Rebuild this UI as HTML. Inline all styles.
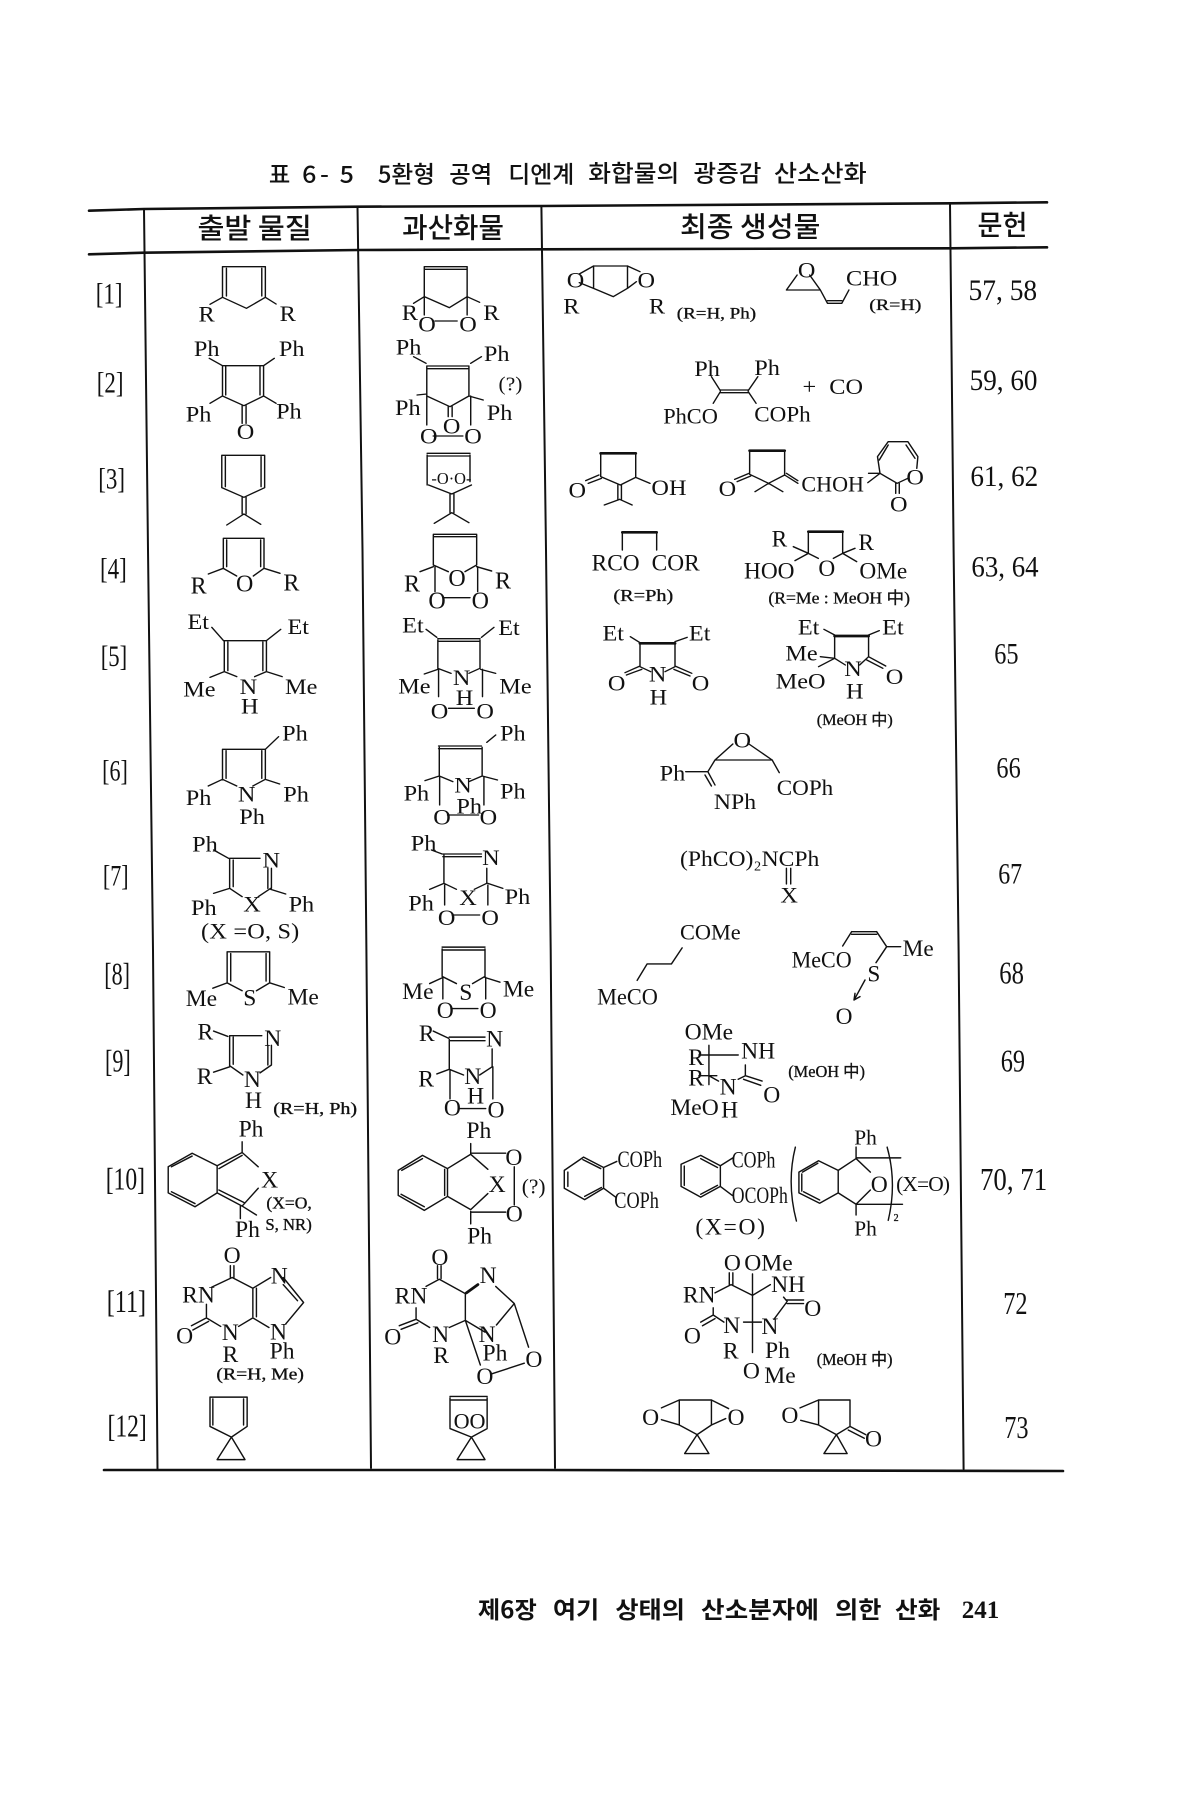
<!DOCTYPE html>
<html><head><meta charset="utf-8"><style>
html,body{margin:0;padding:0;background:#fff}
svg{display:block;font-size:66px}
g.v{font-size:68px}
text{font-family:"Liberation Serif","Noto Sans CJK KR",serif;fill:#111}
path{fill:none;stroke:#111;stroke-width:4;stroke-linecap:round;stroke-linejoin:round}
.k{stroke-width:8}
.s{font-size:46px;stroke:#111;stroke-width:.9}
.n{font-size:88px}
.h{font-family:"Noto Sans CJK KR","Liberation Sans",sans-serif;font-size:70px;font-weight:500}
.hh{font-family:"Noto Sans CJK KR","Liberation Sans",sans-serif;font-size:84px;font-weight:500}
.f{font-family:"Noto Sans CJK KR","Liberation Sans",sans-serif;font-size:66px;font-weight:700}
.m{font-size:50px}
.grid{stroke-width:2;stroke:#111}
.grid2{stroke-width:2.6;stroke:#111}
</style></head><body>
<svg xmlns="http://www.w3.org/2000/svg" width="1200" height="1800" viewBox="0 0 1200 1800">
<rect width="1200" height="1800" fill="#fff"/>
<path class="grid2" d="M89 210.700L144 209L358 206.700L542 206L951 203.300L1047 202.300M89 254.300L144 252.700L358 250L542 249.300L951 248.300L1047 247.300M104 1470L540 1470L1063 1471"/>
<path class="grid" d="M144 209L148 550L153 950L157.500 1469M357.500 206.700L362.500 550L366.400 950L371 1468M541.400 206L546 550L550.700 950L555 1468M950 203.300L953.600 550L958.600 950L963.600 1469"/>

<!-- Z1 -->
<g class="v" transform="translate(60 140) scale(.35714 .33333)">
<text class="h" x="585" y="128" textLength="60" lengthAdjust="spacingAndGlyphs">표</text><text class="h" x="678" y="128">6</text><text class="h" x="728" y="128">-</text><text class="h" x="783" y="128">5</text><text class="h" x="890" y="128" textLength="160" lengthAdjust="spacingAndGlyphs">5환형</text><text class="h" x="1090" y="128" textLength="120" lengthAdjust="spacingAndGlyphs">공역</text><text class="h" x="1255" y="128" textLength="185" lengthAdjust="spacingAndGlyphs">디엔계</text>
<text class="hh" x="385" y="294" textLength="320" lengthAdjust="spacingAndGlyphs">출발 물질</text>
<text class="hh" x="958" y="292" textLength="285" lengthAdjust="spacingAndGlyphs">과산화물</text>
<text class="n" x="100" y="491" textLength="75" lengthAdjust="spacingAndGlyphs">[1]</text>
<text class="n" x="103" y="758" textLength="75" lengthAdjust="spacingAndGlyphs">[2]</text>
<text class="n" x="107" y="1046" textLength="75" lengthAdjust="spacingAndGlyphs">[3]</text>
<path d="M455 380H575M455 380V472M575 380V472M466 385V468M565 385V468M455 472L522 505L575 472M455 472L420 493M575 472L605 492"/>
<text x="388" y="545">R</text><text x="615" y="543">R</text>
<path d="M1020 380H1140M1020 388H1140M1020 380V470M1140 380V470M1020 470L1090 503L1140 470M1020 470L990 490M1140 470L1175 487M1020 470V525M1140 470V525M1050 543H1112"/>
<text x="957" y="540">R</text><text x="1185" y="540">R</text><text x="1003" y="575">O</text><text x="1118" y="575">O</text>
<path d="M455 677H570M455 677V768M464 680V765M570 677V768M560 680V765M455 768L515 797L570 768M510 797V850M521 797V850M418 655L455 677M570 677L600 655M455 768L420 790M570 768L605 790"/>
<text x="375" y="648">Ph</text><text x="613" y="648">Ph</text><text x="352" y="845">Ph</text><text x="605" y="835">Ph</text><text x="495" y="897">O</text>
<path d="M1027 678H1145M1027 686H1145M1027 680V768M1145 680V768M1027 768L1092 800L1145 768M1087 800V830M1098 800V830M990 650L1025 670M1150 670L1180 650M1000 765L1027 762M1145 768L1185 780M1027 768V855M1150 768V855M1045 888H1128"/>
<text x="940" y="643">Ph</text><text x="1187" y="663">Ph</text><text x="1228" y="752" style="font-size:60px">(?)</text><text x="938" y="825">Ph</text><text x="1195" y="840">Ph</text><text x="1072" y="880">O</text><text x="1008" y="910">O</text><text x="1132" y="910">O</text>
<path d="M453 946H573M453 946V1043M463 950V1040M573 946V1043M563 950V1040M453 1043L515 1072L573 1043M510 1072V1122M521 1072V1122M515 1122L467 1155M515 1122L562 1153"/>
<path d="M1028 940H1148M1028 948H1148M1028 945V1035M1148 945V1025M1032 1035L1097 1062L1152 1035M1092 1062V1118M1103 1062V1118M1097 1118L1048 1150M1097 1118L1145 1148"/>
<text x="1040" y="1032" class="m" textLength="112" lengthAdjust="spacingAndGlyphs">-O·O-</text>
</g>

<!-- Z2 -->
<g class="v" transform="translate(540 140) scale(.35714 .33333)">
<text class="h" x="135" y="125" textLength="255" lengthAdjust="spacingAndGlyphs">화합물의</text><text class="h" x="430" y="125" textLength="190" lengthAdjust="spacingAndGlyphs">광증감</text><text class="h" x="655" y="125" textLength="260" lengthAdjust="spacingAndGlyphs">산소산화</text>
<text class="hh" x="392" y="289" textLength="393" lengthAdjust="spacingAndGlyphs">최종 생성물</text>
<text class="hh" x="1225" y="285" textLength="140" lengthAdjust="spacingAndGlyphs">문헌</text>
<text class="n" x="1200" y="480" textLength="192" lengthAdjust="spacingAndGlyphs">57, 58</text>
<text class="n" x="1203" y="750" textLength="190" lengthAdjust="spacingAndGlyphs">59, 60</text>
<text class="n" x="1205" y="1038" textLength="190" lengthAdjust="spacingAndGlyphs">61, 62</text>
<path d="M150 378H245M150 378V445M245 378V445M150 445L205 470L245 445M110 402L150 378M110 428L150 445M245 378L280 395M245 445L270 425"/>
<text x="75" y="443">O</text><text x="273" y="443">O</text><text x="65" y="520">R</text><text x="305" y="520">R</text>
<text class="s" x="383" y="535" textLength="222" lengthAdjust="spacingAndGlyphs">(R=H, Ph)</text>
<path d="M690 450L720 405M755 405L785 450M690 450H785M785 450L805 490M805 482H845M805 490H845M845 490L865 450"/>
<text x="722" y="412">O</text><text x="857" y="437">CHO</text>
<text class="s" x="922" y="510" textLength="146" lengthAdjust="spacingAndGlyphs">(R=H)</text>
<path d="M480 710L505 752M610 710L583 752M505 750H583M505 758H583M505 755L485 790M583 755L605 790"/>
<text x="432" y="708">Ph</text><text x="600" y="705">Ph</text><text x="735" y="762">+</text><text x="810" y="762">CO</text><text x="345" y="850" textLength="153" lengthAdjust="spacingAndGlyphs">PhCO</text><text x="600" y="845" textLength="158" lengthAdjust="spacingAndGlyphs">COPh</text>
<path class="k" d="M170 940H268M587 932H685"/>
<path d="M170 940V1010M268 940V1012M170 1010L225 1035L268 1012M165 1005L128 1022M172 1015L135 1030M268 1012L308 1030M218 1035V1080M228 1035V1080M223 1078L180 1095M223 1078L258 1095"/>
<text x="80" y="1072">O</text><text x="312" y="1065">OH</text>
<path d="M587 935V1000M685 935V1005M587 1003L640 1030L685 1005M640 1030L602 1055M640 1030L680 1055M585 1000L545 1018M590 1008L552 1025M685 1005L722 1030M690 1000L722 1022M920 1000H952M918 1028L952 1000M952 1000L945 950L975 905H1030L1058 950L1055 985M950 960L975 915M1025 915L1050 955M952 1000L1000 1030L1030 1015M996 1030V1060M1006 1030V1060"/>
<text x="500" y="1068">O</text><text x="732" y="1055" textLength="175" lengthAdjust="spacingAndGlyphs">CHOH</text><text x="1026" y="1033">O</text><text x="980" y="1115">O</text>
</g>

<!-- Z8 -->
<g transform="translate(540 500) scale(.33333)">
<path class="k" d="M247 97H350M805 95H908"/>
<path style="stroke-width:4.300" d="M247 97V150M350 97V150M805 95V160M908 95V160M805 160L835 175M908 160L880 175M760 140L805 160M908 160L945 145M805 160L765 182M908 160L950 185"/>
<text style="font-size:70px" x="155" y="212">RCO</text><text style="font-size:70px" x="335" y="212">COR</text><text style="font-size:70px" x="695" y="140">R</text><text style="font-size:70px" x="955" y="150">R</text><text style="font-size:70px" x="612" y="235">HOO</text><text style="font-size:70px" x="835" y="228">O</text><text style="font-size:70px" x="958" y="235">OMe</text>
<text class="s" x="220" y="303" style="font-size:50px" textLength="180" lengthAdjust="spacingAndGlyphs">(R=Ph)</text>
<text class="s" x="685" y="310" style="font-size:50px" textLength="425" lengthAdjust="spacingAndGlyphs">(R=Me : MeOH 中)</text>
</g>

<!-- Z9 -->
<g transform="translate(60 500) scale(.33333)">
<path style="stroke-width:4.300" d="M490 115H612M490 115V205M500 120V200M612 115V205M602 120V200M490 205L530 228M612 205L580 228M490 205L445 222M612 205L660 220"/>
<text style="font-size:72px" x="392" y="280">R</text><text style="font-size:72px" x="528" y="275">O</text><text style="font-size:72px" x="670" y="272">R</text>
<path style="stroke-width:4.300" d="M1120 103H1250M1120 110H1250M1120 105V195M1250 105V195M1120 195L1165 215M1250 195L1215 215M1120 200L1080 215M1250 200L1295 213M1125 200V275M1253 200V275M1150 293H1230"/>
<text style="font-size:72px" x="1165" y="258">O</text><text style="font-size:72px" x="1032" y="275">R</text><text style="font-size:72px" x="1305" y="265">R</text><text style="font-size:72px" x="1105" y="325">O</text><text style="font-size:72px" x="1235" y="325">O</text>
</g>

<!-- Z3 -->
<g class="v" transform="translate(60 540) scale(.35714 .33333)">
<text class="n" x="112" y="116" textLength="75" lengthAdjust="spacingAndGlyphs">[4]</text>
<text class="n" x="114" y="378" textLength="74" lengthAdjust="spacingAndGlyphs">[5]</text>
<text class="n" x="118" y="722" textLength="72" lengthAdjust="spacingAndGlyphs">[6]</text>
<text class="n" x="120" y="1036" textLength="72" lengthAdjust="spacingAndGlyphs">[7]</text>
<path d="M460 302H578M460 302V395M470 306V392M578 302V395M568 306V392M460 395L495 410M578 395L545 410M425 262L458 302M578 302L618 268M460 395L420 412M578 395L622 410"/>
<text x="357" y="267">Et</text><text x="637" y="282">Et</text><text x="345" y="470">Me</text><text x="630" y="462">Me</text><text x="503" y="462">N</text><text x="507" y="520">H</text>
<path d="M1058 296H1176M1058 304H1176M1058 300V385M1176 300V385M1058 385L1095 400M1176 385L1145 400M1025 268L1055 292M1180 292L1215 262M1058 388L1020 402M1178 388L1220 400M1060 388V470M1183 388V470M1088 505H1160"/>
<text x="958" y="278">Et</text><text x="1227" y="285">Et</text><text x="947" y="460">Me</text><text x="1230" y="460">Me</text><text x="1100" y="435">N</text><text x="1108" y="495">H</text><text x="1038" y="535">O</text><text x="1166" y="535">O</text>
<path d="M455 628H575M455 628V718M465 632V715M575 628V718M565 632V715M455 718L495 738M575 718L540 738M575 628L612 590M455 718L415 738M575 718L615 732"/>
<text x="622" y="602">Ph</text><text x="352" y="795">Ph</text><text x="625" y="785">Ph</text><text x="498" y="785">N</text><text x="502" y="852">Ph</text>
<path d="M1060 618H1180M1060 626H1180M1062 622V708M1182 622V708M1062 708L1100 725M1182 708L1145 725M1195 607L1220 585M1062 708L1022 722M1182 708L1225 720M1063 710V795M1187 710V795M1085 825H1172"/>
<text x="1232" y="602">Ph</text><text x="962" y="782">Ph</text><text x="1232" y="775">Ph</text><text x="1104" y="758">N</text><text x="1110" y="820">Ph</text><text x="1045" y="853">O</text><text x="1175" y="853">O</text>
<path d="M475 955H560M475 955V1045M485 960V1040M475 1045L510 1070M590 1045L555 1070M582 985V1045M592 985V1045M430 930L472 955M475 1045L430 1060M590 1048L632 1062"/>
<text x="370" y="935">Ph</text><text x="567" y="982">N</text><text x="367" y="1125">Ph</text><text x="640" y="1115">Ph</text><text x="513" y="1115">X</text><text x="395" y="1195" textLength="275" lengthAdjust="spacing">(X =O, S)</text>
<path d="M1072 942H1180M1072 950H1180M1075 945V1030M1195 985V1030M1075 1030L1110 1048M1195 1030L1160 1048M1040 930L1070 942M1075 1030L1035 1048M1198 1030L1240 1045M1077 1035V1095M1198 1035V1095M1098 1125H1175"/>
<text x="982" y="932">Ph</text><text x="1182" y="975">N</text><text x="975" y="1112">Ph</text><text x="1245" y="1092">Ph</text><text x="1118" y="1095">X</text><text x="1058" y="1155">O</text><text x="1180" y="1155">O</text>
</g>

<!-- Z4 -->
<g class="v" transform="translate(540 540) scale(.35714 .33333)">
<text class="n" x="1208" y="110" textLength="188" lengthAdjust="spacingAndGlyphs">63, 64</text>
<text class="n" x="1272" y="370" textLength="68" lengthAdjust="spacingAndGlyphs">65</text>
<text class="n" x="1278" y="713" textLength="68" lengthAdjust="spacingAndGlyphs">66</text>
<text class="n" x="1283" y="1030" textLength="67" lengthAdjust="spacingAndGlyphs">67</text>
<path class="k" d="M280 310H378M825 288H920"/>
<path d="M253 290L280 308M378 305L412 292M280 312V380M378 312V380M280 380L310 395M378 380L350 395M280 378L238 398M285 388L242 405M378 378L425 400M375 388L420 408"/>
<text x="175" y="302">Et</text><text x="417" y="302">Et</text><text x="190" y="452">O</text><text x="425" y="452">O</text><text x="305" y="425">N</text><text x="307" y="493">H</text>
<path d="M795 268L825 285M920 285L950 272M825 290V355M920 290V350M785 350L825 355M825 355L780 380M825 355L855 375M920 350L895 375M920 350L968 378M915 360L960 385"/>
<text x="722" y="283">Et</text><text x="958" y="283">Et</text><text x="687" y="362">Me</text><text x="660" y="445">MeO</text><text x="852" y="408">N</text><text x="857" y="475">H</text><text x="968" y="432">O</text>
<text class="s" x="775" y="555" textLength="213" lengthAdjust="spacingAndGlyphs">(MeOH 中)</text>
<path d="M490 660L540 612M585 612L650 660M490 660H650M408 695H470M470 695L490 660M470 695L490 735M462 705L480 738M650 660L670 698"/>
<text x="542" y="622">O</text><text x="335" y="722">Ph</text><text x="663" y="765" textLength="158" lengthAdjust="spacingAndGlyphs">COPh</text><text x="487" y="807" textLength="118" lengthAdjust="spacingAndGlyphs">NPh</text>
<text x="392" y="978" textLength="390" lengthAdjust="spacingAndGlyphs">(PhCO)₂NCPh</text>
<path d="M690 985V1032M702 985V1032"/>
<text x="673" y="1088">X</text>
<text x="392" y="1198" textLength="170" lengthAdjust="spacingAndGlyphs">COMe</text>
</g>

<!-- Z10 -->
<g transform="translate(770 900) scale(.33333)">
<path style="stroke-width:4.300" d="M218 138L245 95M245 95H320M245 103H320M320 95L350 140H392M350 140L318 188M285 240L255 295M252 300L255 280M252 300L270 290"/>
<text style="font-size:70px" x="65" y="203" textLength="180" lengthAdjust="spacingAndGlyphs">MeCO</text><text style="font-size:70px" x="398" y="168">Me</text><text style="font-size:70px" x="292" y="245">S</text><text style="font-size:70px" x="197" y="372">O</text>
</g>

<!-- Z5 -->
<g transform="translate(60 940) scale(.35714)">
<text class="n" x="124" y="124" textLength="72" lengthAdjust="spacingAndGlyphs">[8]</text>
<text class="n" x="126" y="368" textLength="72" lengthAdjust="spacingAndGlyphs">[9]</text>
<text class="n" x="128" y="698" textLength="110" lengthAdjust="spacingAndGlyphs">[10]</text>
<text class="n" x="131" y="1042" textLength="110" lengthAdjust="spacingAndGlyphs">[11]</text>
<text class="n" x="133" y="1390" textLength="110" lengthAdjust="spacingAndGlyphs">[12]</text>
<path d="M468 33H587M468 33V120M478 38V115M587 33V120M577 38V115M468 120L510 142M587 120L550 142M468 120L428 135M587 120L628 133"/>
<text x="352" y="185">Me</text><text x="513" y="183">S</text><text x="637" y="180">Me</text>
<path d="M1070 20H1190M1070 28H1190M1070 25V102M1190 25V102M1070 102L1110 122M1190 102L1155 122M1072 105L1035 122M1190 105L1232 118M1072 105V165M1192 105V165M1095 192H1170"/>
<text x="958" y="165">Me</text><text x="1240" y="158">Me</text><text x="1118" y="168">S</text><text x="1055" y="218">O</text><text x="1175" y="218">O</text>
<path d="M475 268H565M475 268V352M485 272V348M475 352L512 378M430 255L470 270M475 355L430 370M582 295V350M592 295V350M592 350L560 372"/>
<text x="385" y="278">R</text><text x="572" y="297">N</text><text x="383" y="403">R</text><text x="515" y="412">N</text><text x="518" y="470">H</text>
<text class="s" x="597" y="487" textLength="235" lengthAdjust="spacingAndGlyphs">(R=H, Ph)</text>
<path d="M1090 272H1190M1090 282H1190M1090 278V362M1045 255L1088 275M1090 362L1130 378M1090 362L1055 375M1210 305V355M1210 355L1175 378M1092 365V445M1212 355V445M1115 472H1192"/>
<text x="1005" y="283">R</text><text x="1193" y="298">N</text><text x="1003" y="410">R</text><text x="1132" y="403">N</text><text x="1140" y="458">H</text><text x="1075" y="492">O</text><text x="1197" y="497">O</text>
<path d="M303 635L370 597L440 632V708L378 747L303 708ZM312 635L370 605M312 705L378 738M440 632L510 595M445 640L510 603M510 595L555 635M510 565V595M440 708L510 745M445 700L515 735M510 745L555 695M510 745L550 770M505 745V780"/>
<text x="500" y="550">Ph</text><text x="563" y="693">X</text><text x="490" y="832">Ph</text>
<text class="s" x="578" y="752" textLength="127" lengthAdjust="spacingAndGlyphs">(X=O,</text><text class="s" x="575" y="812" textLength="130" lengthAdjust="spacingAndGlyphs">S, NR)</text>
<path d="M947 645L1015 603L1085 640V718L1020 757L947 715ZM957 645L1015 612M955 712L1020 747M1077 642V715M1085 640L1150 600M1085 718L1150 755M1150 600L1198 642M1150 755L1198 710M1150 570V600M1150 760V795M1150 597H1248M1150 762H1248M1272 635V742"/>
<text x="1138" y="555">Ph</text><text x="1200" y="705">X</text><text x="1293" y="710" style="font-size:60px">(?)</text><text x="1140" y="850">Ph</text><text x="1247" y="630">O</text><text x="1248" y="788">O</text>
<path d="M477 912V945M487 912V945M482 945L425 972M482 945L540 975L590 945M625 945L682 1015L632 1075M625 965L665 1010M540 975V1055M550 975V1055M540 1058L500 1082M540 1058L585 1085M410 1020V1055M410 1058L450 1082M410 1058L368 1080M416 1068L372 1092"/>
<text x="458" y="905">O</text><text x="590" y="962">N</text><text x="342" y="1015">RN</text><text x="325" y="1130">O</text><text x="453" y="1120">N</text><text x="588" y="1118">N</text><text x="455" y="1182">R</text><text x="587" y="1172">Ph</text>
<text class="s" x="438" y="1230" textLength="245" lengthAdjust="spacingAndGlyphs">(R=H, Me)</text>
<path d="M1057 912V948M1067 912V948M1062 950L1025 970M1062 950L1135 990M1135 990V1065M1135 1065L1090 1085M1135 1065L1190 1098M1135 1065L1177 1190M1220 970L1272 1018L1222 1078M1272 1018L1312 1140M1208 1215L1300 1185M997 1030V1060M997 1062L1035 1085M997 1062L950 1080M1002 1072L955 1090"/>
<path class="k" d="M1138 988L1170 965"/>
<text x="1040" y="910">O</text><text x="1175" y="960">N</text><text x="937" y="1018">RN</text><text x="908" y="1132">O</text><text x="1042" y="1125">N</text><text x="1172" y="1125">N</text><text x="1045" y="1185">R</text><text x="1183" y="1178">Ph</text><text x="1303" y="1195">O</text><text x="1166" y="1243">O</text>
<path d="M420 1280H524M420 1280V1362M428 1285V1358M524 1280V1362M514 1285V1358M420 1362L480 1392L524 1362M480 1392L440 1455H518Z"/>
<path d="M1092 1278H1196M1092 1288H1196M1092 1282V1365M1196 1282V1365M1092 1368L1152 1392L1196 1368M1152 1392L1112 1455H1190Z"/>
<text x="1102" y="1368" style="font-size:62px">OO</text>
</g>

<!-- Z6 -->
<g transform="translate(540 940) scale(.35714)">
<text class="n" x="1286" y="122" textLength="69" lengthAdjust="spacingAndGlyphs">68</text>
<text class="n" x="1290" y="368" textLength="68" lengthAdjust="spacingAndGlyphs">69</text>
<text class="n" x="1232" y="700" textLength="188" lengthAdjust="spacingAndGlyphs">70, 71</text>
<text class="n" x="1297" y="1047" textLength="68" lengthAdjust="spacingAndGlyphs">72</text>
<text class="n" x="1300" y="1394" textLength="68" lengthAdjust="spacingAndGlyphs">73</text>
<path d="M398 22L368 67H300L272 113"/>
<text x="160" y="180" textLength="170" lengthAdjust="spacingAndGlyphs">MeCO</text>
<path d="M473 295V405M445 322H555M445 380H495M555 390L575 380V350M575 380L622 395M570 390L618 407M473 380L500 395"/>
<text x="405" y="278">OMe</text><text x="563" y="332">NH</text><text x="415" y="350">R</text><text x="415" y="408">R</text><text x="503" y="433">N</text><text x="625" y="455">O</text><text x="365" y="490">MeO</text><text x="507" y="497">H</text>
<text class="s" x="695" y="383" textLength="215" lengthAdjust="spacingAndGlyphs">(MeOH 中)</text>
<path d="M68 645L122 608L178 637V695L125 727L68 695ZM120 615L170 640M78 650V690M125 718L172 693M178 637L215 620M178 695L212 720"/>
<text x="217" y="635" textLength="125" lengthAdjust="spacingAndGlyphs">COPh</text><text x="208" y="750" textLength="125" lengthAdjust="spacingAndGlyphs">COPh</text>
<path d="M395 628L450 603L505 632V690L450 720L395 690ZM450 612L497 637M404 633V687M450 712L497 687M505 632L540 610M505 690L538 715"/>
<text x="537" y="637" textLength="122" lengthAdjust="spacingAndGlyphs">COPh</text><text x="537" y="737" textLength="157" lengthAdjust="spacingAndGlyphs">OCOPh</text>
<text x="435" y="825" textLength="195" lengthAdjust="spacing">(X=O)</text>
<path d="M715 580Q690 680 718 787M972 580Q1000 680 975 785"/>
<path d="M725 650L780 618L835 645V708L783 737L725 708ZM735 650L778 625M733 655V703M738 705L783 728M835 645L885 612M835 708L885 740M885 612L925 650M885 740L925 700M885 580V612M885 740V770M885 610H1010M885 740H1015"/>
<text x="880" y="572" style="font-size:60px">Ph</text><text x="880" y="828" style="font-size:60px">Ph</text><text x="926" y="705">O</text><text x="997" y="703" style="font-size:60px" textLength="151" lengthAdjust="spacing">(X=O)</text><text x="990" y="787" class="s" style="font-size:28px">2</text>
<path d="M530 932V965M540 932V965M535 965L490 988M535 965L595 995M595 935V1155M595 995L645 965M682 1000L692 1012M690 1008H738M692 1018H738M690 1015L655 1062M485 1030V1050M485 1050L515 1070M485 1050L450 1070M490 1060L455 1080M570 1070H620"/>
<text x="515" y="925">O</text><text x="572" y="925">OMe</text><text x="647" y="985">NH</text><text x="400" y="1015">RN</text><text x="740" y="1053">O</text><text x="513" y="1100">N</text><text x="620" y="1103">N</text><text x="403" y="1130">O</text><text x="512" y="1172">R</text><text x="630" y="1170">Ph</text><text x="568" y="1228">O</text><text x="628" y="1240">Me</text>
<text class="s" x="775" y="1190" textLength="212" lengthAdjust="spacingAndGlyphs">(MeOH 中)</text>
<path d="M390 1288H480M390 1288V1358M480 1288V1358M390 1358L440 1385L480 1358M440 1385L405 1438H473ZM340 1310L390 1288M340 1343L390 1358M480 1288L528 1312M480 1358L520 1340"/>
<text x="286" y="1358">O</text><text x="525" y="1358">O</text>
<path d="M780 1288H868M780 1288V1358M868 1288V1362M780 1358L830 1385L868 1362M830 1385L795 1438H860ZM728 1310L780 1288M730 1345L780 1358M868 1362L912 1385M863 1372L908 1395"/>
<text x="676" y="1352">O</text><text x="910" y="1418">O</text>
</g>

<!-- Footer -->
<g transform="translate(460 1570) scale(.35714)">
<text class="f" x="50" y="135" textLength="165" lengthAdjust="spacingAndGlyphs">제6장</text>
<text class="f" x="260" y="135" textLength="130" lengthAdjust="spacingAndGlyphs">여기</text>
<text class="f" x="435" y="135" textLength="195" lengthAdjust="spacingAndGlyphs">상태의</text>
<text class="f" x="675" y="135" textLength="330" lengthAdjust="spacingAndGlyphs">산소분자에</text>
<text class="f" x="1050" y="135" textLength="130" lengthAdjust="spacingAndGlyphs">의한</text>
<text class="f" x="1218" y="135" textLength="127" lengthAdjust="spacingAndGlyphs">산화</text>
<text x="1405" y="135" style="font-weight:700;font-size:72px" textLength="105" lengthAdjust="spacingAndGlyphs">241</text>
</g>
</svg>
</body></html>
